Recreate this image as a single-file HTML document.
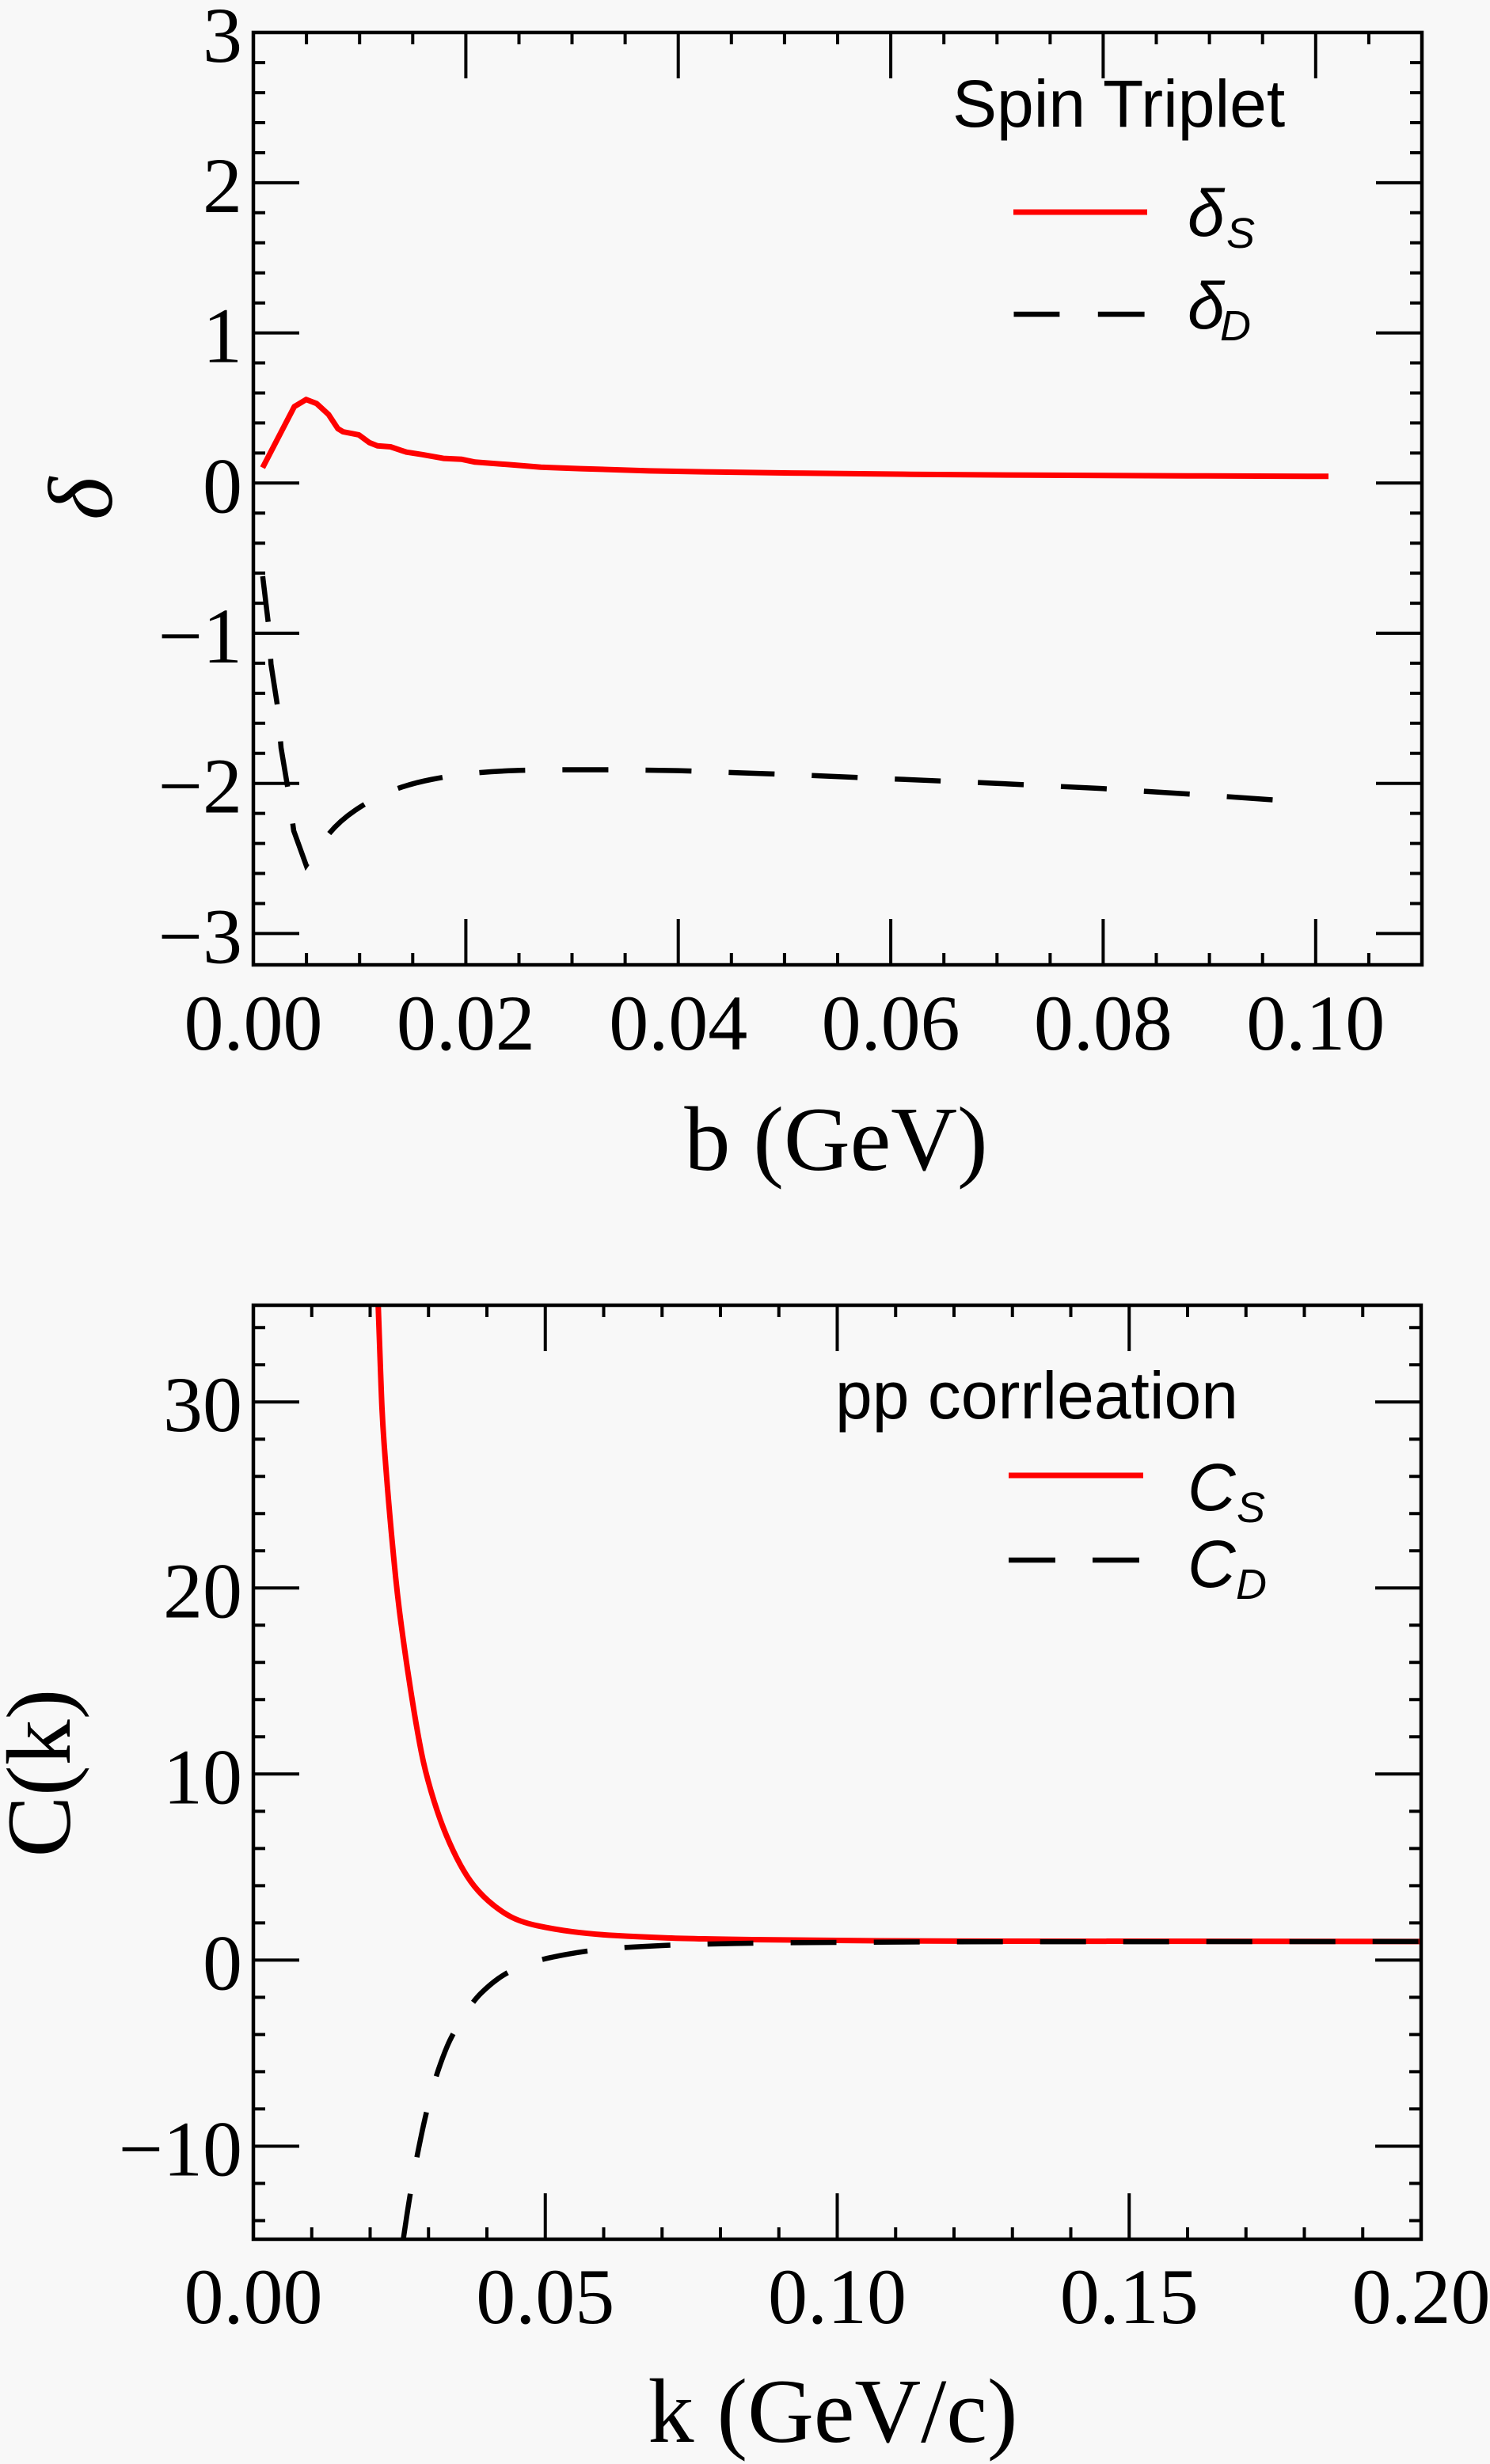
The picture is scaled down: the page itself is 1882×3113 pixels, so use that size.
<!DOCTYPE html>
<html>
<head>
<meta charset="utf-8">
<style>
html,body{margin:0;padding:0;background:#f8f8f8;}
svg{display:block;}
.tk{font-family:"Liberation Serif",serif;font-size:100px;fill:#000;}
.al{font-family:"Liberation Serif",serif;font-size:116px;fill:#000;}
.lg{font-family:"Liberation Sans",sans-serif;font-size:84px;fill:#000;}
.lgi{font-family:"Liberation Sans",sans-serif;font-size:84px;font-style:italic;fill:#000;}
.sub{font-family:"Liberation Sans",sans-serif;font-size:54px;font-style:italic;fill:#000;}
</style>
</head>
<body>
<svg width="1882" height="3113" viewBox="0 0 1882 3113" xmlns="http://www.w3.org/2000/svg">
<rect x="0" y="0" width="1882" height="3113" fill="#f8f8f8"/>
<defs>
<clipPath id="c1"><rect x="320" y="41" width="1476" height="1178"/></clipPath>
<clipPath id="c2"><rect x="320" y="1649" width="1475" height="1180"/></clipPath>
</defs>

<!-- ================= TOP PLOT ================= -->
<g clip-path="url(#c1)" fill="none" stroke-linejoin="round">
<path stroke="#ff0000" stroke-width="7" d="M331.7,590.9 L371.7,513.8 L386.7,504.7 L400,509.9 L415,523.7 L426.7,541.5 L433.3,545.5 L453.3,549.4 L466.7,559.3 L476.7,563.3 L493.3,564.5 L513.3,571.2 L533.3,574.3 L560,579.1 L583.3,580.3 L600,583.8 L643.3,587 L683.3,590.2 L733.3,592.1 L820,594.9 L900,596.3 L1000,597.6 L1150,599.2 L1300,600.3 L1500,601.2 L1678,601.8"/>
<path stroke="#000" stroke-width="6.5" stroke-dasharray="58 47" stroke-linejoin="miter" d="M331.8,728 L339.3,790.6 L342.3,839.3 L351,895.4 L355,944.8 L364.3,1000.2 L371,1049.6 L386.7,1093.1 L395,1081.3 L410,1060.5 Q425,1039.7 448.35,1023.9 Q471.7,1008.1 494.2,999.2 Q516.7,990.3 545,984.75 Q573.3,979.2 597.5,976.85 Q621.7,974.5 650.35,973.5 Q679,972.5 732,972.5 L785,972.5 L856.7,973.6 L991,978.3 L1125,984 L1259,989.7 L1393,996.3 L1528,1004.9 L1635,1012.5"/>
</g>

<g stroke="#000" stroke-width="4" fill="none">
<path d="M320,79.1h15 M320,117.1h15 M320,155h15 M320,193h15 M320,268.8h15 M320,306.8h15 M320,344.7h15 M320,382.7h15 M320,458.5h15 M320,496.5h15 M320,534.4h15 M320,572.4h15 M320,648.2h15 M320,686.2h15 M320,724.1h15 M320,762.1h15 M320,837.9h15 M320,875.9h15 M320,913.8h15 M320,951.8h15 M320,1027.6h15 M320,1065.6h15 M320,1103.5h15 M320,1141.5h15"/>
<path d="M1796,79.1h-15 M1796,117.1h-15 M1796,155h-15 M1796,193h-15 M1796,268.8h-15 M1796,306.8h-15 M1796,344.7h-15 M1796,382.7h-15 M1796,458.5h-15 M1796,496.5h-15 M1796,534.4h-15 M1796,572.4h-15 M1796,648.2h-15 M1796,686.2h-15 M1796,724.1h-15 M1796,762.1h-15 M1796,837.9h-15 M1796,875.9h-15 M1796,913.8h-15 M1796,951.8h-15 M1796,1027.6h-15 M1796,1065.6h-15 M1796,1103.5h-15 M1796,1141.5h-15"/>
<path d="M320,230.9h58 M320,420.6h58 M320,610.3h58 M320,800h58 M320,989.7h58 M320,1179.4h58"/>
<path d="M1796,230.9h-58 M1796,420.6h-58 M1796,610.3h-58 M1796,800h-58 M1796,989.7h-58 M1796,1179.4h-58"/>
<path d="M387.1,1219v-15 M454.2,1219v-15 M521.3,1219v-15 M655.5,1219v-15 M722.5,1219v-15 M789.6,1219v-15 M923.8,1219v-15 M990.9,1219v-15 M1058,1219v-15 M1192.2,1219v-15 M1259.3,1219v-15 M1326.4,1219v-15 M1460.5,1219v-15 M1527.6,1219v-15 M1594.7,1219v-15 M1728.9,1219v-15"/>
<path d="M588.4,1219v-58 M856.7,1219v-58 M1125.1,1219v-58 M1393.4,1219v-58 M1661.8,1219v-58"/>
<path d="M387.1,41v15 M454.2,41v15 M521.3,41v15 M655.5,41v15 M722.5,41v15 M789.6,41v15 M923.8,41v15 M990.9,41v15 M1058,41v15 M1192.2,41v15 M1259.3,41v15 M1326.4,41v15 M1460.5,41v15 M1527.6,41v15 M1594.7,41v15 M1728.9,41v15"/>
<path d="M588.4,41v58 M856.7,41v58 M1125.1,41v58 M1393.4,41v58 M1661.8,41v58"/>
</g>
<rect x="320" y="41" width="1476" height="1178" fill="none" stroke="#000" stroke-width="4.5"/>

<g class="tk" text-anchor="end">
<text x="306" y="78">3</text>
<text x="306" y="268">2</text>
<text x="306" y="457.6">1</text>
<text x="306" y="647.3">0</text>
<text x="306" y="837">−1</text>
<text x="306" y="1026.7">−2</text>
<text x="306" y="1216.4">−3</text>
</g>
<g class="tk" text-anchor="middle">
<text x="320" y="1326">0.00</text>
<text x="588.4" y="1326">0.02</text>
<text x="856.7" y="1326">0.04</text>
<text x="1125.1" y="1326">0.06</text>
<text x="1393.4" y="1326">0.08</text>
<text x="1661.8" y="1326">0.10</text>
</g>
<text class="al" x="1056" y="1478" text-anchor="middle">b (GeV)</text>
<text class="al" font-style="italic" text-anchor="middle" transform="translate(141,630) rotate(-90)">δ</text>

<text class="lg" x="1203" y="160">Spin Triplet</text>
<line x1="1280" y1="268" x2="1449" y2="268" stroke="#ff0000" stroke-width="7"/>
<text class="lgi" x="1500" y="298">δ</text>
<text class="sub" x="1549" y="313">S</text>
<path d="M1280.5,397 H1338.4 M1386.8,397 H1445.6" stroke="#000" stroke-width="6.5"/>
<text class="lgi" x="1500" y="415">δ</text>
<text class="sub" x="1541" y="430">D</text>

<!-- ================= BOTTOM PLOT ================= -->
<g clip-path="url(#c2)" fill="none" stroke-linejoin="round">
<path stroke="#ff0000" stroke-width="7" d="M476.9,1625 L477.7,1649 L480.7,1733.6 L481.8,1763 Q482.9,1792.4 485.1,1822.95 Q487.3,1853.5 489.5,1880.55 Q491.7,1907.6 494.3,1936.25 Q496.9,1964.9 499.85,1993.8 Q502.8,2022.7 506.85,2053.05 Q510.9,2083.4 514.95,2110.65 Q519,2137.9 523.4,2164.6 Q527.8,2191.3 532.25,2213.95 Q536.7,2236.6 544.45,2262.95 Q552.2,2289.3 559.9,2309.05 Q567.6,2328.8 576.45,2346.4 Q585.3,2364 594.5,2376.95 Q603.7,2389.9 616.6,2401.35 Q629.5,2412.8 643.15,2420.5 Q656.8,2428.2 678.2,2432.8 Q699.6,2437.4 722.8,2440.45 Q746,2443.5 776.2,2445.3 Q806.4,2447.1 843.25,2448.35 Q880.1,2449.6 950.05,2450.55 Q1020,2451.5 1112,2451.95 L1204,2452.4 L1800,2452.9"/>
<path stroke="#000" stroke-width="6.5" stroke-dasharray="58 47" d="M509.4,2829 L513.45,2801.95 Q517.5,2774.9 521.95,2750.1 Q526.4,2725.3 531.9,2699 Q537.4,2672.7 542.95,2651.45 Q548.5,2630.2 554,2614.1 Q559.5,2598 565.05,2584.8 Q570.6,2571.6 583.5,2550.45 Q596.4,2529.3 607.45,2518.35 Q618.5,2507.4 629.55,2499.55 Q640.6,2491.7 652.75,2486.65 Q664.9,2481.6 676.7,2477.9 Q688.5,2474.2 716.15,2469.1 Q743.8,2464 771.4,2461.8 Q799,2459.6 835.9,2458 Q872.8,2456.4 928.05,2455.35 Q983.3,2454.3 1093.85,2453.75 L1204.4,2453.2 L1800,2452.9"/>
</g>

<g stroke="#000" stroke-width="4" fill="none">
<path d="M320,1677.2h15 M320,1724.2h15 M320,1818.2h15 M320,1865.2h15 M320,1912.3h15 M320,1959.3h15 M320,2053.3h15 M320,2100.3h15 M320,2147.3h15 M320,2194.3h15 M320,2288.4h15 M320,2335.4h15 M320,2382.4h15 M320,2429.4h15 M320,2523.4h15 M320,2570.4h15 M320,2617.4h15 M320,2664.4h15 M320,2758.5h15 M320,2805.5h15"/>
<path d="M1795,1677.2h-15 M1795,1724.2h-15 M1795,1818.2h-15 M1795,1865.2h-15 M1795,1912.3h-15 M1795,1959.3h-15 M1795,2053.3h-15 M1795,2100.3h-15 M1795,2147.3h-15 M1795,2194.3h-15 M1795,2288.4h-15 M1795,2335.4h-15 M1795,2382.4h-15 M1795,2429.4h-15 M1795,2523.4h-15 M1795,2570.4h-15 M1795,2617.4h-15 M1795,2664.4h-15 M1795,2758.5h-15 M1795,2805.5h-15"/>
<path d="M320,1771.2h58 M320,2006.3h58 M320,2241.3h58 M320,2476.4h58 M320,2711.5h58"/>
<path d="M1795,1771.2h-58 M1795,2006.3h-58 M1795,2241.3h-58 M1795,2476.4h-58 M1795,2711.5h-58"/>
<path d="M393.75,2829v-15 M467.5,2829v-15 M541.25,2829v-15 M615,2829v-15 M762.5,2829v-15 M836.25,2829v-15 M910,2829v-15 M983.75,2829v-15 M1131.25,2829v-15 M1205,2829v-15 M1278.75,2829v-15 M1352.5,2829v-15 M1500,2829v-15 M1573.75,2829v-15 M1647.5,2829v-15 M1721.25,2829v-15"/>
<path d="M688.75,2829v-58 M1057.5,2829v-58 M1426.25,2829v-58"/>
<path d="M393.75,1649v15 M467.5,1649v15 M541.25,1649v15 M615,1649v15 M762.5,1649v15 M836.25,1649v15 M910,1649v15 M983.75,1649v15 M1131.25,1649v15 M1205,1649v15 M1278.75,1649v15 M1352.5,1649v15 M1500,1649v15 M1573.75,1649v15 M1647.5,1649v15 M1721.25,1649v15"/>
<path d="M688.75,1649v58 M1057.5,1649v58 M1426.25,1649v58"/>
</g>
<rect x="320" y="1649" width="1475" height="1180" fill="none" stroke="#000" stroke-width="4.5"/>

<g class="tk" text-anchor="end">
<text x="306" y="1808.2">30</text>
<text x="306" y="2043.3">20</text>
<text x="306" y="2278.3">10</text>
<text x="306" y="2513.4">0</text>
<text x="306" y="2748.5">−10</text>
</g>
<g class="tk" text-anchor="middle">
<text x="320" y="2935">0.00</text>
<text x="688.75" y="2935">0.05</text>
<text x="1057.5" y="2935">0.10</text>
<text x="1426.25" y="2935">0.15</text>
<text x="1795" y="2935">0.20</text>
</g>
<text class="al" x="1052" y="3085" text-anchor="middle">k (GeV/c)</text>
<text class="al" text-anchor="middle" transform="translate(88,2240) rotate(-90)">C(k)</text>

<text class="lg" x="1055" y="1792">pp corrleation</text>
<line x1="1274" y1="1864" x2="1444" y2="1864" stroke="#ff0000" stroke-width="7"/>
<text class="lgi" x="1500" y="1908">C</text>
<text class="sub" x="1562" y="1923">S</text>
<path d="M1274,1971 H1333 M1380,1971 H1439" stroke="#000" stroke-width="6.5"/>
<text class="lgi" x="1500" y="2005">C</text>
<text class="sub" x="1561" y="2020">D</text>
</svg>
</body>
</html>
